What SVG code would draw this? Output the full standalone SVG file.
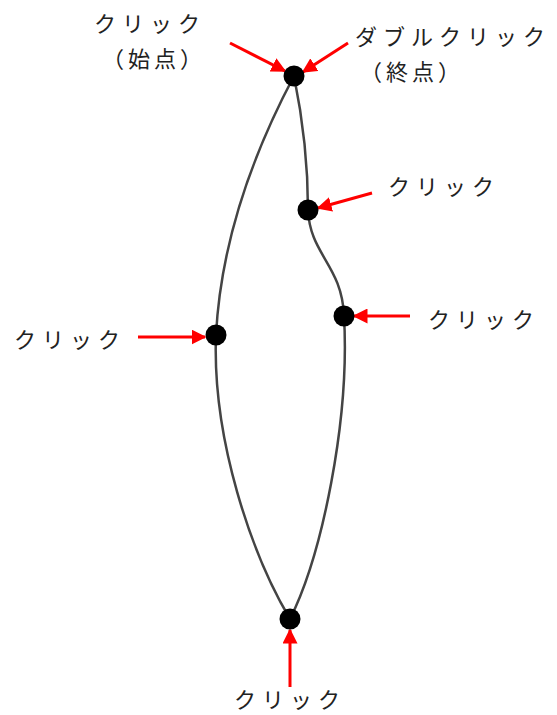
<svg xmlns="http://www.w3.org/2000/svg" width="557" height="715" viewBox="0 0 557 715">
<defs>
<style>
text{font-family:"Liberation Serif","Noto Sans CJK JP",serif;font-size:22px;fill:#222;letter-spacing:6px}
.pr{letter-spacing:4px}
.pt{fill:#000}
.arr{stroke:#f00;stroke-width:3;fill:none;marker-end:url(#ah)}
.curve{stroke:#444;stroke-width:2.5;fill:none}
</style>
<marker id="ah" viewBox="0 0 10 10" refX="9" refY="5" markerWidth="5" markerHeight="5" orient="auto" markerUnits="strokeWidth">
<path d="M0,0 L10,5 L0,10 Z" fill="#f00"/>
</marker>
</defs>
<g id="curve"><path class="curve" d="M294,76 C303,120 308,170 308,210 C310,255 342,265 344,316 C350,420 322,555 290,619 C252,555 212,440 216,335 C222,220 268,125 294,76 Z"/></g>
<g id="connectors">
<line class="arr" x1="230" y1="43" x2="285" y2="71"/>
<line class="arr" x1="348" y1="43" x2="303" y2="72"/>
<line class="arr" x1="372" y1="193" x2="318" y2="208"/>
<line class="arr" x1="410" y1="316" x2="354" y2="316"/>
<line class="arr" x1="138" y1="337" x2="205" y2="337"/>
<line class="arr" x1="290" y1="687" x2="290" y2="630"/>
</g>
<g id="p1"><circle class="pt" cx="294" cy="76" r="10.5"/></g>
<g id="p2"><circle class="pt" cx="308" cy="210" r="10.5"/></g>
<g id="p3"><circle class="pt" cx="344" cy="316" r="10.5"/></g>
<g id="p4"><circle class="pt" cx="216" cy="335" r="10.5"/></g>
<g id="p5"><circle class="pt" cx="290" cy="619" r="10.5"/></g>
<g id="l1"><text x="94" y="32">クリック</text><text class="pr" x="102" y="67">（始点）</text></g>
<g id="l2"><text x="355" y="45">ダブルクリック</text><text class="pr" x="360" y="80">（終点）</text></g>
<g id="l3"><text x="388" y="195">クリック</text></g>
<g id="l4"><text x="428" y="328">クリック</text></g>
<g id="l5"><text x="14" y="348">クリック</text></g>
<g id="l6"><text x="234" y="708">クリック</text></g>
</svg>
